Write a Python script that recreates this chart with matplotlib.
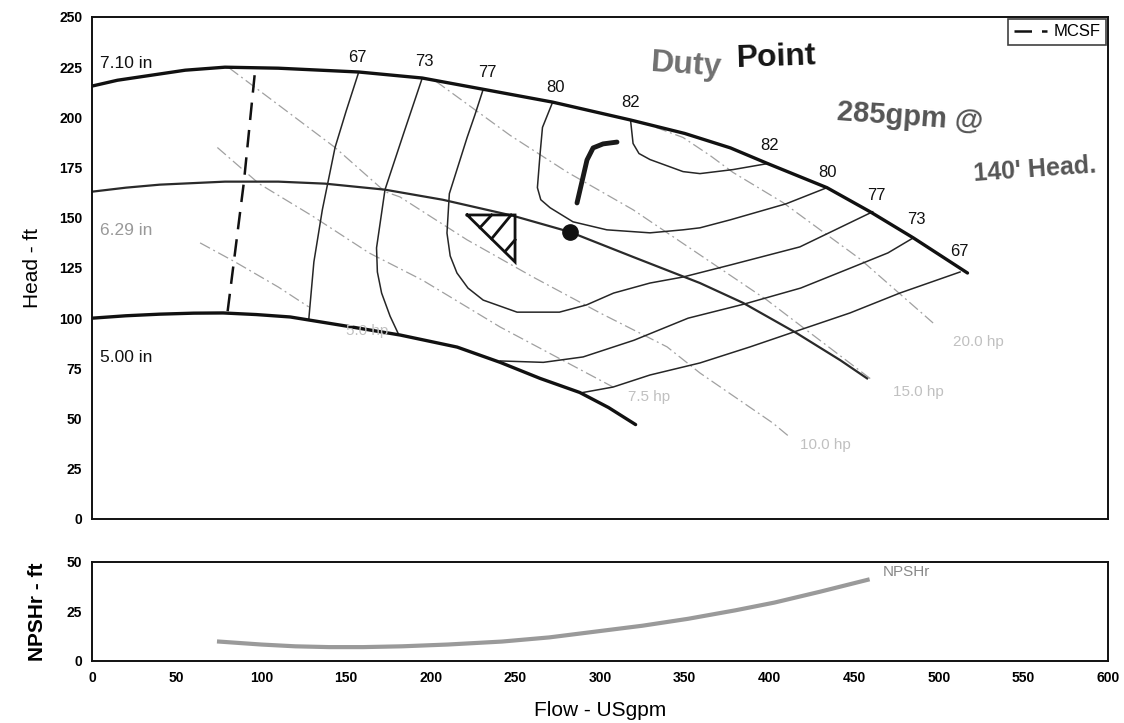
import matplotlib
matplotlib.use("Agg")
import matplotlib.pyplot as plt

plt.rcParams['font.family'] = ['Liberation Sans', 'DejaVu Sans']

# impeller curves (flow USgpm, head ft)
q_710 = [0, 15, 35, 55, 78.5, 110, 157.5, 195, 231, 272, 318, 350, 377, 399, 434, 459.5, 485, 517]
h_710 = [215.6, 218.5, 221, 223.5, 225, 224.5, 222.6, 219.6, 214, 207.6, 198.7, 192, 184.8, 177, 165, 153, 140, 122.5]
q_629 = [0, 20, 40, 78.5, 110, 137.6, 173, 207, 248.6, 282, 319.5, 359, 384.5, 416, 442, 457.7]
h_629 = [163, 165, 166.5, 168, 168, 167, 164, 159, 151, 143, 130.5, 117.5, 107.6, 92.6, 79, 70]
q_500 = [0, 20, 40, 60, 77.4, 97, 117, 150.6, 182, 215.6, 241, 264.6, 288, 305, 321]
h_500 = [100, 101.2, 102, 102.5, 102.6, 101.8, 100.6, 96, 91.6, 85.6, 78, 70, 63, 55.5, 47]

# efficiency contours
e67l_q = [157.5, 150, 143.5, 136, 131, 128]
e67l_h = [222.6, 203, 185, 154, 128, 99.5]
e73l_q = [195, 184, 173, 168, 168.5, 171, 176, 181]
e73l_h = [219.6, 192, 164, 135, 123, 112.5, 101, 92]
e77_q = [231, 226, 221.5, 211, 209.6, 211.5, 215.5, 222, 231, 251, 276, 292, 308, 329.5, 349, 377, 418, 461]
e77_h = [214, 201, 190, 162, 142.4, 131, 122.5, 115, 109, 103, 103, 106.6, 112.5, 117.5, 120.5, 126.5, 135.5, 153]
e80_q = [272, 266, 264.6, 263, 265, 270.5, 284, 304, 329.5, 349, 359, 377, 410, 434]
e80_h = [207.6, 195, 182, 165, 159, 155, 148, 144, 142.5, 144, 145, 149, 157, 165]
e82_q = [318, 319.5, 323, 329.5, 349, 359, 378.5, 399]
e82_h = [198.7, 187, 182, 179, 173, 172, 174, 177]
e73r_q = [241, 266.5, 290, 320, 352, 385, 418.5, 448, 470, 485]
e73r_h = [78.7, 78, 80.7, 89, 100, 107, 115, 125, 132.5, 140]
e67r_q = [288, 307.7, 329.5, 359, 388.6, 414, 447.6, 477, 512.6]
e67r_h = [62.7, 65.7, 71.7, 77.7, 85.7, 93, 102.6, 112.5, 123]

eff_labels = ['67', '73', '77', '80', '82', '82', '80', '77', '73', '67']
eff_lab_q = [156.5, 196, 233.2, 273.4, 318.3, 400.4, 434.6, 463, 486.6, 512]
eff_lab_h = [230, 227.6, 222.6, 215, 207.5, 185.8, 172.8, 161, 149, 133]

# power lines
hp50_q = [63.8, 84.5, 110, 128]
hp50_h = [137.5, 128, 115.5, 105.6]
hp75_q = [74, 98.6, 129.9, 163.6, 195, 241, 307.7]
hp75_h = [185, 167, 151, 132.5, 119, 95.6, 65.7]
hp100_q = [81, 110.4, 143.5, 173, 181.8, 221.5, 260.4, 300, 339.6, 359, 402, 412]
hp100_h = [224.6, 206, 185, 163, 160.4, 139, 120.5, 102.6, 85.7, 72.7, 47.8, 40.8]
hp150_q = [203, 247, 280.5, 319.5, 398.6, 437.6, 461]
hp150_h = [218, 191, 172.8, 154, 109, 84, 69]
hp200_q = [333, 349, 365, 378.5, 408, 453.5, 496.7]
hp200_h = [195, 190, 181, 172.6, 157.6, 129.5, 97.6]

hp_labels = ['5.0 hp', '7.5 hp', '10.0 hp', '15.0 hp', '20.0 hp']
hp_lab_q = [150, 316.5, 418, 473, 508.5]
hp_lab_h = [93.6, 60.8, 36.9, 63, 88]

# MCSF line
mcsf_q = [96, 89.7, 80]
mcsf_h = [221, 168, 103]

# hatched triangle, hatch strokes, duty point, hand stroke
tri_q = [221.5, 249.8, 249.8, 221.5]
tri_h = [151.4, 151.4, 128, 151.4]
hatch_q = [[229.1, 236], [236, 247.5], [243.9, 249.8]]
hatch_h = [[145.1, 151.4], [139.6, 151.4], [133.2, 139]]
duty_q = 282
duty_h = 143
stroke_q = [286.4, 292.3, 295.9, 301.8, 310]
stroke_h = [157.4, 178.8, 184.8, 186.8, 187.7]

# NPSHr
npsh_q = [75, 100, 120, 140, 160, 183, 210, 242, 270, 297, 325, 352, 380, 403, 430, 458]
npsh_h = [9.8, 8.3, 7.4, 7.0, 7.0, 7.4, 8.3, 9.8, 11.9, 14.8, 17.8, 21.3, 25.6, 29.5, 35, 41]

fig = plt.figure(figsize=(11.24, 7.23), dpi=100)
ax = fig.add_axes([0.0819, 0.2822, 0.9039, 0.6943])
ax2 = fig.add_axes([0.0819, 0.0858, 0.9039, 0.1369])

dash_dot = (0, (9, 3, 1.5, 3))
for q, h in [(hp50_q, hp50_h), (hp75_q, hp75_h), (hp100_q, hp100_h),
             (hp150_q, hp150_h), (hp200_q, hp200_h)]:
    ax.plot(q, h, color='#a0a0a0', lw=0.9, ls=dash_dot)

for q, h in [(e67l_q, e67l_h), (e73l_q, e73l_h), (e77_q, e77_h), (e80_q, e80_h),
             (e82_q, e82_h), (e73r_q, e73r_h), (e67r_q, e67r_h)]:
    ax.plot(q, h, color='#262626', lw=1.1)

ax.plot(q_710, h_710, color='#111111', lw=2.4, solid_capstyle='round')
ax.plot(q_629, h_629, color='#2a2a2a', lw=1.6)
ax.plot(q_500, h_500, color='#111111', lw=2.4, solid_capstyle='round')

ax.plot(mcsf_q, mcsf_h, color='#111111', lw=1.8, ls=(0, (7, 4)), label='MCSF')

ax.plot(tri_q, tri_h, color='#111111', lw=2, solid_joinstyle='miter')
for q, h in zip(hatch_q, hatch_h):
    ax.plot(q, h, color='#111111', lw=2)
ax.plot(duty_q, duty_h, 'o', color='#111111', ms=11)
ax.plot(stroke_q, stroke_h, color='#1a1a1a', lw=3.5, solid_capstyle='round')

for t, q, h in zip(eff_labels, eff_lab_q, eff_lab_h):
    ax.text(q, h, t, fontsize=12, ha='center', va='center', color='#111111')
for t, q, h in zip(hp_labels, hp_lab_q, hp_lab_h):
    ax.text(q, h, t, fontsize=11, ha='left', va='center', color='#c0c0c0')

ax.text(4.5, 227, '7.10 in', fontsize=12.5, ha='left', va='center', color='#111111')
ax.text(4.5, 143.5, '6.29 in', fontsize=12.5, ha='left', va='center', color='#999999')
ax.text(4.5, 80.5, '5.00 in', fontsize=12.5, ha='left', va='center', color='#111111')

ax.text(351, 226, 'Duty', fontsize=23, fontweight='bold', color='#707070',
        ha='center', va='center', rotation=-4)
ax.text(404, 230, 'Point', fontsize=23, fontweight='bold', color='#151515',
        ha='center', va='center', rotation=2)
ax.text(483, 200, '285gpm @', fontsize=21, fontweight='bold', color='#555555',
        ha='center', va='center', rotation=-4, clip_on=False)
ax.text(557, 174, "140' Head.", fontsize=18, fontweight='bold', color='#555555',
        ha='center', va='center', rotation=4, clip_on=False)

ax.set_xlim(0, 600)
ax.set_ylim(0, 250)
ax.set_xticks(range(0, 601, 50))
ax.set_xticklabels([])
ax.set_yticks(range(0, 251, 25))
ax.set_ylabel('Head - ft', fontsize=15, labelpad=12)
leg = ax.legend(loc='upper right', borderaxespad=0.1, fontsize=12, frameon=True,
                fancybox=False, handlelength=2.0, handletextpad=0.4, borderpad=0.35)
leg.get_frame().set_edgecolor('#111111')
leg.get_frame().set_linewidth(1.2)

ax2.plot(npsh_q, npsh_h, color='#9a9a9a', lw=3)
ax2.text(467, 45, 'NPSHr', fontsize=11, color='#888888', ha='left', va='center')
ax2.set_xlim(0, 600)
ax2.set_ylim(0, 50)
ax2.set_xticks(range(0, 601, 50))
ax2.set_yticks([0, 25, 50])
ax2.set_ylabel('NPSHr - ft', fontsize=15, fontweight='bold', labelpad=14)
ax2.set_xlabel('Flow - USgpm', fontsize=15, labelpad=12)

for a in (ax, ax2):
    a.tick_params(length=0, pad=7, labelsize=10)
    for lab in a.get_xticklabels() + a.get_yticklabels():
        lab.set_fontweight('bold')
    for s in a.spines.values():
        s.set_linewidth(1.4)
        s.set_color('#111111')

fig.savefig('out.png', dpi=100)
